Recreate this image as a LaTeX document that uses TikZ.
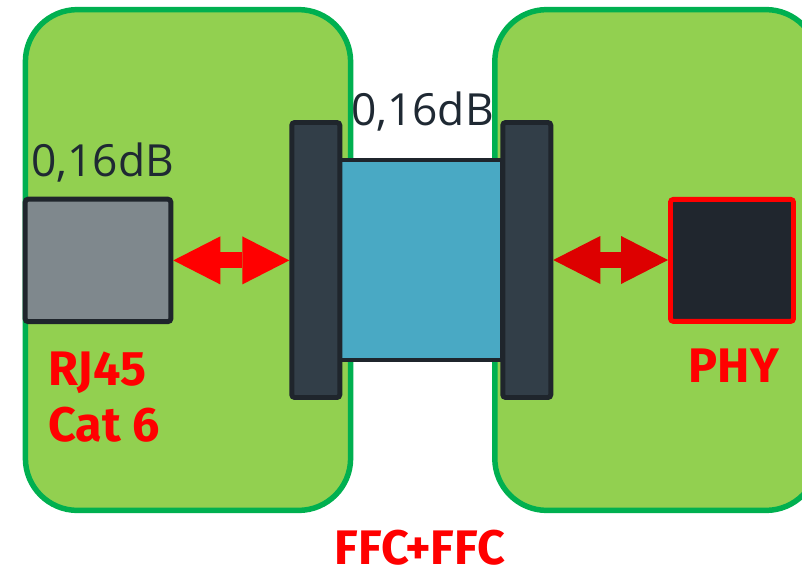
\documentclass[tikz,border=0pt]{standalone}
\usepackage{fontspec}
\setmainfont{Open Sans}
\newfontfamily\labelfont{Fira Sans}
\usepackage{tikz}
\usetikzlibrary{arrows.meta, positioning, calc}
\definecolor{boardgreen}{RGB}{146, 208, 80}
\definecolor{boardedge}{RGB}{0, 176, 80}
\definecolor{jackgray}{RGB}{127, 136, 141}
\definecolor{darkedge}{RGB}{31, 37, 44}
\definecolor{connslate}{RGB}{50, 62, 72}
\definecolor{cableblue}{RGB}{73, 169, 196}
\definecolor{phydark}{RGB}{32, 38, 46}
\definecolor{textdark}{RGB}{31, 41, 51}
\definecolor{linkred}{RGB}{255, 0, 0}
\definecolor{linkdarkred}{RGB}{221, 0, 0}
\tikzset{
    board/.style={draw=boardedge, fill=boardgreen, line width=3.9pt, rounded corners=1.3cm, minimum height=12.52cm, inner sep=0pt},
    part/.style={draw=darkedge, line width=3.5pt, rounded corners=2pt, inner sep=0pt},
    jack/.style={part, fill=jackgray, minimum width=3.64cm, minimum height=3.06cm},
    connbox/.style={part, fill=connslate, minimum width=1.2cm, minimum height=6.875cm},
    cable/.style={part, fill=cableblue, line width=2.8pt, rounded corners=0pt, minimum width=4.05cm, minimum height=5cm},
    chip/.style={part, draw=linkred, fill=phydark, minimum width=3.075cm, minimum height=3.05cm},
    lossnote/.style={font=\fontsize{31.5}{36}\selectfont, text=textdark, inner sep=0pt},
    redlabel/.style={font=\labelfont\bfseries\fontsize{34.5}{40.2}\selectfont, text=linkred, inner sep=0pt},
    linkarrow/.style={line width=0.4cm, {Triangle[length=1.175cm, width=1.2cm, line width=0pt]}-{Triangle[length=1.175cm, width=1.2cm, line width=0pt]}},
}
\begin{document}
\begin{tikzpicture}
                \useasboundingbox (0, 0) rectangle (20.05, -14.225);

                % Boards
                \node[board, minimum width=8.13cm] (boardL) at (4.70, -6.50) {};
                \node[board, minimum width=8.08cm] (boardR) at (16.41, -6.50) {};

                % RJ45 jack
                \node[jack] (jack) at (2.45, -6.51) {};

                % Cable and connectors
                \node[cable] (cable) at (10.525, -6.49) {};
                \node[connbox] (connL) at (7.895, -6.5) {};
                \node[connbox] (connR) at (13.17, -6.5) {};

                % PHY
                \node[chip] (phy) at (18.3, -6.51) {};

                % Losses
                \node[lossnote, anchor=base west] (lossL) at (0.775, -4.42) {0,16dB};
                \node[lossnote, anchor=base] (lossC) at (10.56, -3.125) {0,16dB};

                % Labels
                \node[redlabel, align=left, anchor=base west] (jacklabel) at (1.2, -11.04) {RJ45\\Cat 6};
                \node[redlabel, anchor=base] (phylabel) at (18.35, -9.57) {PHY};
                \node[redlabel, anchor=base] (ffclabel) at (10.50, -14.12) {FFC+FFC};

                % Arrows
                \draw[linkarrow, linkred] (jack.east) -- (jack.east -| connL.west);
                \draw[linkarrow, linkdarkred] (connR.east) -- (connR.east -| phy.west);
            \end{tikzpicture}
\end{document}
